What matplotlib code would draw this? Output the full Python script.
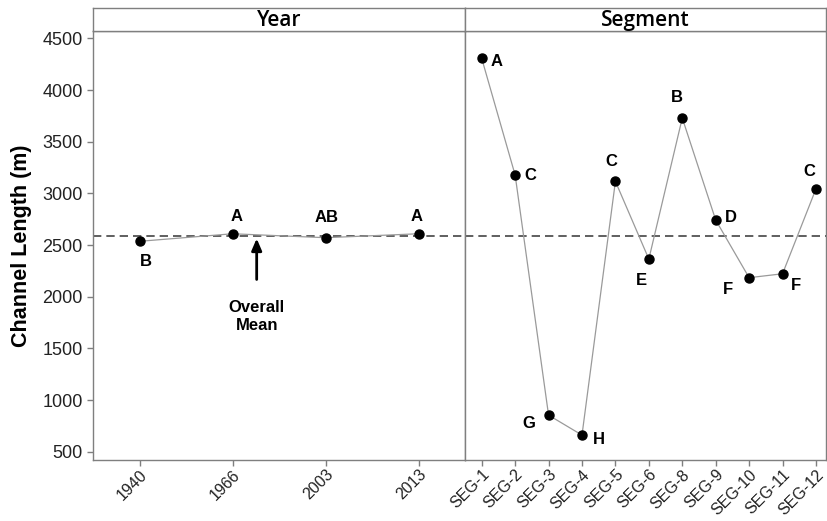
import matplotlib.pyplot as plt

# channel length means by year and by segment, with grouping letters
years = ["1940", "1966", "2003", "2013"]
year_means = [2536, 2609, 2571, 2609]
year_groups = ["B", "A", "AB", "A"]

segments = ["SEG-1", "SEG-2", "SEG-3", "SEG-4", "SEG-5", "SEG-6",
            "SEG-8", "SEG-9", "SEG-10", "SEG-11", "SEG-12"]
seg_means = [4306, 3177, 854, 661, 3116, 2364, 3729, 2742, 2184, 2222, 3044]
seg_groups = ["A", "C", "G", "H", "C", "E", "B", "D", "F", "F", "C"]

overall_mean = 2590

# letter offsets in pixels (dx, dy)
year_offsets = [(6, -20), (4, 17), (1, 20), (-2, 17)]
seg_offsets = [(15, -3), (15, 0), (-20, -8), (17, -4), (-4, 20), (-7, -21),
               (-5, 21), (15, 3), (-21, -12), (13, -12), (-7, 17)]

W, H = 827, 521
FRAME = "#7f7f7f"
LINE = "#9a9a9a"
TXT = "#222222"

fig = plt.figure(figsize=(W / 100, H / 100), dpi=100)


def box(x0, y0, x1, y1):
    # pixel box (top-left origin) -> figure fraction rect
    return [x0 / W, 1 - y1 / H, (x1 - x0) / W, (y1 - y0) / H]


ax1 = fig.add_axes(box(93, 31, 465, 460))
ax2 = fig.add_axes(box(465, 31, 826, 460), sharey=ax1)
strip1 = fig.add_axes(box(93, 8, 465, 31))
strip2 = fig.add_axes(box(465, 8, 826, 31))

for s, title in [(strip1, "Year"), (strip2, "Segment")]:
    s.set_xticks([])
    s.set_yticks([])
    for sp in s.spines.values():
        sp.set_color(FRAME)
        sp.set_linewidth(1.0)
    s.text(0.5, 0.45, title, transform=s.transAxes, ha="center", va="center",
           fontsize=15, fontweight="semibold", family="Open Sans", color="black")


def draw_panel(ax, labels, values, groups, offsets, xmax):
    xs = list(range(len(labels)))
    ax.plot(xs, values, color=LINE, lw=0.9, zorder=2)
    ax.plot(xs, values, "o", color="black", ms=6.5, zorder=3)
    ax.axhline(overall_mean, color="#444444", lw=1.2, ls=(0, (5, 3)), zorder=1)
    for x, v, g, off in zip(xs, values, groups, offsets):
        ax.annotate(g, (x, v), xytext=off, textcoords="offset pixels",
                    ha="center", va="center", fontsize=12, fontweight="bold",
                    family="Liberation Sans", color="black")
    ax.set_xlim(-0.5, xmax)
    ax.set_xticks(xs)
    ax.set_xticklabels(labels, rotation=45, ha="right", rotation_mode="anchor",
                       fontsize=11.5, family="Liberation Sans", color=TXT)
    ax.tick_params(axis="both", colors=FRAME, labelcolor=TXT, length=4, width=1)
    ax.tick_params(axis="x", pad=1)
    for sp in ax.spines.values():
        sp.set_color(FRAME)
        sp.set_linewidth(1.0)


draw_panel(ax1, years, year_means, year_groups, year_offsets, 3.5)
draw_panel(ax2, segments, seg_means, seg_groups, seg_offsets, 10.3)

ax1.set_ylim(420, 4571)
ax1.set_yticks([500, 1000, 1500, 2000, 2500, 3000, 3500, 4000, 4500])
for lab in ax1.get_yticklabels():
    lab.set_fontsize(13)
    lab.set_family("Liberation Sans")
ax1.set_ylabel("Channel Length (m)", fontsize=15.5, fontweight="bold",
               family="Liberation Sans", labelpad=7)
ax2.tick_params(axis="y", left=False, labelleft=False)

# arrow pointing at the overall mean line
ax1.annotate("", xy=(1.26, overall_mean), xytext=(1.26, overall_mean - 450),
             arrowprops=dict(arrowstyle="-|>,head_width=0.3,head_length=0.7",
                             color="black", lw=2))
ax1.text(1.26, overall_mean - 780, "Overall\nMean", ha="center", va="center",
         fontsize=12, fontweight="bold", family="Liberation Sans",
         linespacing=1.3)

fig.savefig("out.png", dpi=100)
